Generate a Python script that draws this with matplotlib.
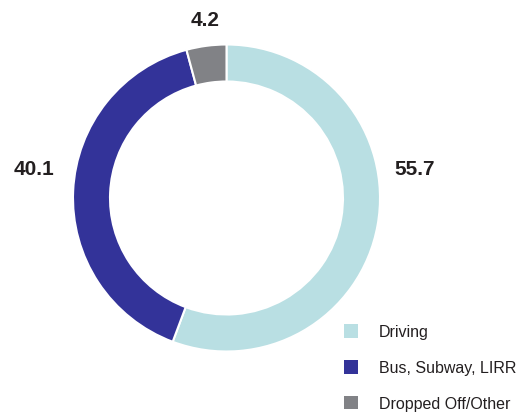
import matplotlib
matplotlib.use("Agg")
import matplotlib.pyplot as plt
from matplotlib.patches import Rectangle

categories = ["Driving", "Bus, Subway, LIRR", "Dropped Off/Other"]
values = [55.7, 40.1, 4.2]
value_labels = ["55.7", "40.1", "4.2"]
colors = ["#b9dfe3", "#333399", "#818286"]

W, H = 530, 412
fig = plt.figure(figsize=(W / 100, H / 100), dpi=100)
plt.rcParams['font.family'] = ['Liberation Sans', 'DejaVu Sans']

cx, cy, R = 226.5, 198.0, 153.5
ax = fig.add_axes([(cx - R) / W, (H - cy - R) / H, 2 * R / W, 2 * R / H])
ax.pie(values, colors=colors, startangle=90, counterclock=False, radius=1,
       wedgeprops=dict(width=37 / R, edgecolor="white", linewidth=1.5))
ax.set_xlim(-1, 1)
ax.set_ylim(-1, 1)
ax.axis("off")

label_pos = [(415, 175), (34.5, 175), (205, 26)]
for txt, (x, y) in zip(value_labels, label_pos):
    fig.text(x / W, 1 - y / H, txt, ha="center", va="baseline",
             fontsize=15, fontweight="bold", color="#231f20")

leg_y = [331, 367, 402.5]
for lab, col, y in zip(categories, colors, leg_y):
    fig.patches.append(Rectangle(((344) / W, 1 - (y + 6.75) / H), 13.5 / W, 13.5 / H,
                                 transform=fig.transFigure, facecolor=col, edgecolor="none"))
    fig.text(379 / W, 1 - (y + 6.5) / H, lab, ha="left", va="baseline",
             fontsize=11.5, color="#231f20")

fig.savefig("out.png", dpi=100)
